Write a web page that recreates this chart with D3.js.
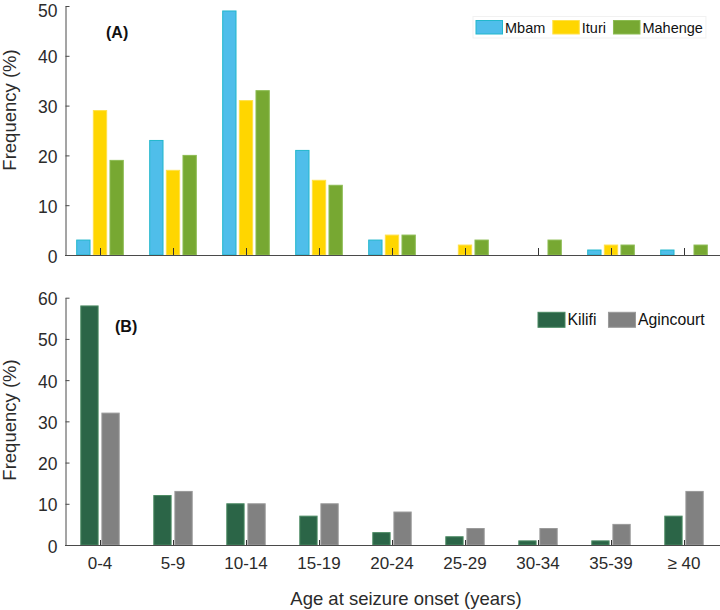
<!DOCTYPE html>
<html><head><meta charset="utf-8">
<script src="https://cdn.jsdelivr.net/npm/d3@7"></script>
<style>body{margin:0;background:#fff;} svg{display:block;font-family:"Liberation Sans",Arial,Helvetica,sans-serif;}</style>
</head><body>
<svg id="chart" width="720" height="610"></svg>
<script>
const categories = ["0-4","5-9","10-14","15-19","20-24","25-29","30-34","35-39","\u2265 40"];
const seriesA = ["Mbam","Ituri","Mahenge"];
const mbam    = [3,23,49,21,3,0,0,1,1];
const ituri   = [29,17,31,15,4,2,0,2,0];
const mahenge = [19,20,33,14,4,3,3,2,2];
const seriesB = ["Kilifi","Agincourt"];
const kilifi    = [58,12,10,7,3,2,1,1,7];
const agincourt = [32,13,10,10,8,4,4,5,13];
const ticksA = [0,10,20,30,40,50];
const ticksB = [0,10,20,30,40,50,60];

const fills = {Mbam:"#4fbeea",Ituri:"#ffd600",Mahenge:"#77a832",Kilifi:"#2b6547",Agincourt:"#818181"};
const strokes = {Mbam:"#22b7cc",Ituri:"#ffe04a",Mahenge:"#8cbc52",Kilifi:"#4b8a63",Agincourt:"#9a9a9a"};

const svg = d3.select("#chart");
const axisColor = "#4a4a4a";
const textColor = "#2b2b2b";

const x = d3.scaleBand().domain(categories).range([63.5, 720.5]).padding(0);

function panel(opts){
  const {y0,y1,maxV,ticks,series,data,innerHalf,innerPad,label,labelPos,legend,yTitleY} = opts;
  const y = d3.scaleLinear().domain([0,maxV]).range([y0,y1]);
  const x1 = d3.scaleBand().domain(series).range([-innerHalf, innerHalf]).paddingInner(innerPad).paddingOuter(0);
  const g = svg.append("g");
  series.forEach((s,si)=>{
    g.selectAll(null).data(data[si].map((v,i)=>({v,c:categories[i]}))).enter()
      .filter(d=>d.v>0)
      .append("rect")
      .attr("x",d=>x(d.c)+x.bandwidth()/2+x1(s))
      .attr("width",x1.bandwidth())
      .attr("y",d=>y(d.v))
      .attr("height",d=>y(0)-y(d.v))
      .attr("fill",fills[s])
      .attr("stroke",strokes[s])
      .attr("stroke-width",1);
  });
  g.append("line").attr("x1",65).attr("x2",720).attr("y1",y(0)+0.5).attr("y2",y(0)+0.5)
    .attr("stroke",axisColor).attr("stroke-width",1.2);
  g.selectAll(null).data(categories).enter().append("line")
    .attr("x1",d=>Math.round(x(d)+x.bandwidth()/2)+0.5).attr("x2",d=>Math.round(x(d)+x.bandwidth()/2)+0.5)
    .attr("y1",y(0)).attr("y2",y(0)-opts.xTick)
    .attr("stroke","#333").attr("stroke-width",1);
  const ya = d3.axisLeft(y).tickValues(ticks).tickSizeInner(-4).tickSizeOuter(0).tickPadding(8);
  const yg = g.append("g").attr("transform","translate(65.5,0)").call(ya);
  yg.select(".domain").attr("stroke",axisColor).attr("stroke-width",1);
  yg.selectAll(".tick line").attr("stroke",axisColor);
  yg.selectAll(".tick text").attr("font-size",17.5).attr("fill",textColor)
    .attr("dy",d=> (y(d) < 12 ? "0.62em" : "0.4em"))
    .attr("font-family","Liberation Sans, Arial, sans-serif");
  g.append("text").attr("transform",`translate(16,${yTitleY}) rotate(-90)`)
    .attr("text-anchor","middle").attr("font-size",18.5).attr("fill",textColor).text("Frequency (%)");
  g.append("text").attr("x",labelPos[0]).attr("y",labelPos[1]).attr("font-size",16).attr("font-weight","bold")
    .attr("fill","#111").text(label);
  const lg = g.append("g");
  const bg = lg.append("rect").attr("fill","#fff").attr("stroke","#f1f1f1");
  let cx = legend.x;
  series.forEach(s=>{
    lg.append("rect").attr("x",cx).attr("y",legend.y).attr("width",legend.bw).attr("height",legend.bh)
      .attr("fill",fills[s]).attr("stroke",strokes[s]).attr("stroke-width",1);
    const t = lg.append("text").attr("x",cx+legend.bw+2.5).attr("y",legend.base).attr("font-size",legend.fs)
      .attr("fill","#111").text(s);
    cx = cx+legend.bw+2.5+t.node().getComputedTextLength()+legend.gap;
  });
  if(legend.frame) bg.attr("x",legend.x-3).attr("y",legend.y-4).attr("width",cx-legend.gap-legend.x+6).attr("height",legend.bh+8);
  return y;
}

panel({y0:255,y1:6,maxV:50,ticks:ticksA,series:seriesA,data:[mbam,ituri,mahenge],
  innerHalf:23.3,innerPad:0.2,label:"(A)",labelPos:[106,38],xTick:7,yTitleY:110,
  legend:{x:476,y:20.5,bw:26.5,bh:13.5,base:33,fs:14.5,gap:7.5,frame:true}});
panel({y0:545,y1:297.7,maxV:60,ticks:ticksB,series:seriesB,data:[kilifi,agincourt],
  innerHalf:19.2,innerPad:0.18,label:"(B)",labelPos:[115,332],xTick:5,yTitleY:420,
  legend:{x:538,y:312.3,bw:27,bh:15,base:325,fs:15.8,gap:12,frame:false}});

svg.append("g").selectAll(null).data(categories).enter().append("text")
  .attr("x",d=>x(d)+x.bandwidth()/2).attr("y",569).attr("text-anchor","middle")
  .attr("font-size",17).attr("fill",textColor).text(d=>d);
svg.append("text").attr("x",406).attr("y",605).attr("text-anchor","middle")
  .attr("font-size",18.5).attr("fill",textColor).text("Age at seizure onset (years)");
</script>
</body></html>
